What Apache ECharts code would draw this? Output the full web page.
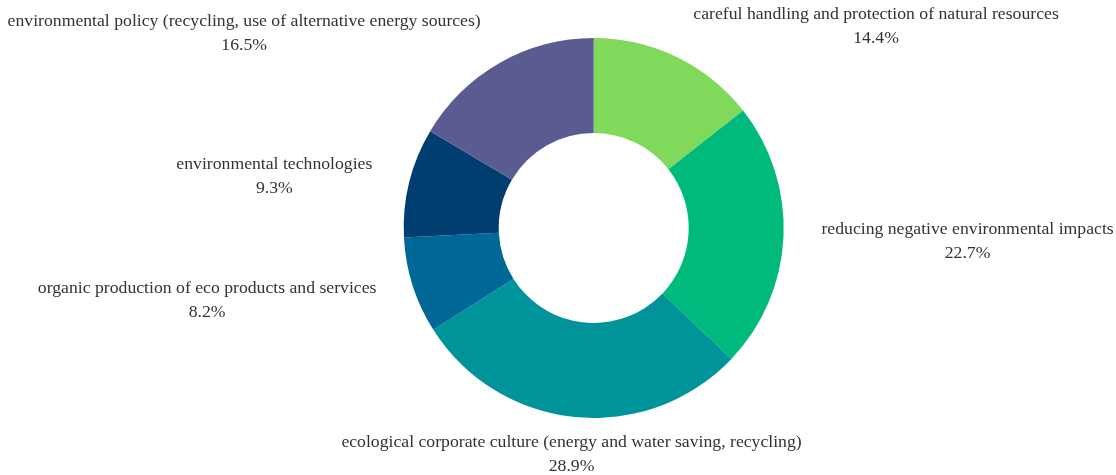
<!DOCTYPE html>
<html>
<head>
<meta charset="utf-8">
<script src="https://cdn.jsdelivr.net/npm/echarts@6/dist/echarts.min.js"></script>
<style>
  html, body { margin: 0; padding: 0; background: #ffffff; }
  #chart { width: 1116px; height: 475px; }
</style>
</head>
<body>
<div id="chart"></div>
<script>
// Shares of environmental activities (percent), clockwise from 12 o'clock
const categories = [
  'careful handling and protection of natural resources',
  'reducing negative environmental impacts',
  'ecological corporate culture (energy and water saving, recycling)',
  'organic production of eco products and services',
  'environmental technologies',
  'environmental policy (recycling, use of alternative energy sources)'
];
const shares = [14.4, 22.7, 28.9, 8.2, 9.3, 16.5];
const sliceColors = ['#80d95a', '#00b97c', '#00939a', '#006896', '#003d70', '#5a5b91'];

const total = shares.reduce((a, b) => a + b, 0);

// Mid-angle of each slice (radians, clockwise from top) used to pick label alignment
function midAngle(i) {
  let before = 0;
  for (let k = 0; k < i; k++) before += shares[k];
  return ((before + shares[i] / 2) / total) * Math.PI * 2;
}

const chart = echarts.init(document.getElementById('chart'), null, { renderer: 'canvas' });

chart.setOption({
  animation: false,
  backgroundColor: '#ffffff',
  series: [{
    type: 'pie',
    center: ['53.2%', '48%'],
    radius: [95, 190],
    startAngle: 90,
    clockwise: true,
    avoidLabelOverlap: false,
    itemStyle: { borderWidth: 0 },
    emphasis: { disabled: true },
    label: {
      show: true,
      position: 'outside',
      distanceToLabelLine: 0,
      fontFamily: '"Liberation Serif", "Times New Roman", serif',
      fontSize: 17.7,
      lineHeight: 24,
      color: '#333333',
      formatter: p => p.name + '\n' + p.value.toFixed(1) + '%'
    },
    labelLine: { show: false, length: 38, length2: 0 },
    // Keep each label block on its side of the ring but centre its two lines
    labelLayout: function (params) {
      const a = midAngle(params.dataIndex);
      const r = params.labelRect;
      const nearVertical = Math.abs(Math.sin(a)) < 0.3;
      let cx;
      if (nearVertical) {
        cx = params.align === 'right' ? r.x + r.width : r.x;
      } else {
        cx = r.x + r.width / 2;
      }
      return {
        x: cx,
        y: r.y + r.height / 2 + (nearVertical ? -1 : 3),
        align: 'center',
        verticalAlign: 'middle'
      };
    },
    data: categories.map((name, i) => ({
      name: name,
      value: shares[i],
      itemStyle: { color: sliceColors[i] }
    }))
  }]
});
</script>
</body>
</html>
